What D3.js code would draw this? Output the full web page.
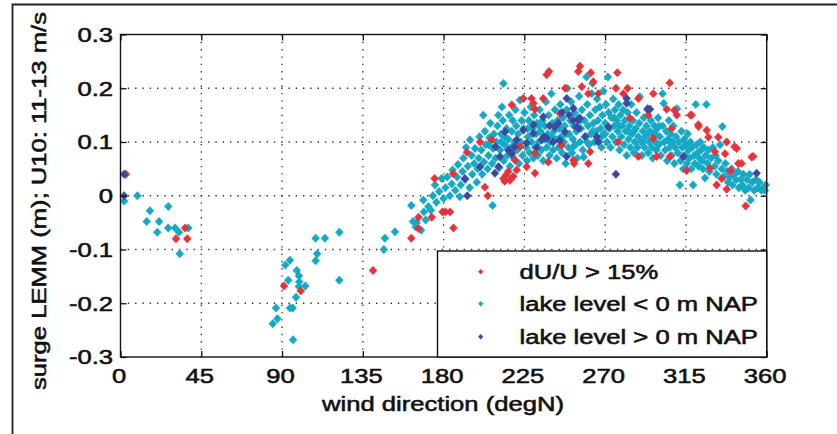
<!DOCTYPE html>
<html>
<head>
<meta charset="utf-8">
<script src="https://cdn.jsdelivr.net/npm/d3@7"></script>
<style>
  body { margin: 0; background: #fff; }
  text { font-family: "Liberation Sans", Arial, sans-serif; fill: #111; stroke: #111; stroke-width: 0.55px; }
</style>
</head>
<body>
<svg id="chart" width="837" height="434"></svg>
<script>
// axis ticks
const xTicks = [0, 45, 90, 135, 180, 225, 270, 315, 360];
const yTicks = [-0.3, -0.2, -0.1, 0, 0.1, 0.2, 0.3];
const yTickLabels = ["-0.3", "-0.2", "-0.1", "0", "0.1", "0.2", "0.3"];
const xTitle = "wind direction (degN)";
const yTitle = "surge LEMM (m); U10: 11-13 m/s";
const legendLabels = ["dU/U > 15%", "lake level < 0 m NAP", "lake level > 0 m NAP"];
const colors = ["#e8323a", "#14a9c6", "#3b4a9e"];

// [wind direction, surge]  - lake level < 0 m NAP
const lakeLow = [
  [2,-0.01],[9.4,0.0],[16.4,-0.028],[14.6,-0.048],[21.5,-0.048],[26.6,-0.02],[20.5,-0.068],[26.6,-0.06],
  [30.4,-0.06],[32.6,-0.068],[37.8,-0.06],[33,-0.108],
  [84.8,-0.238],[86.6,-0.209],[87.4,-0.229],[91.8,-0.129],[93.5,-0.157],[94.4,-0.12],[94.4,-0.209],
  [95.9,-0.209],[96.1,-0.268],[97.8,-0.189],[98.2,-0.139],[99.4,-0.149],[99.6,-0.16],[99.4,-0.169],
  [103,-0.168],[108.7,-0.079],[113.9,-0.079],[121.9,-0.068],[109.6,-0.108],[108.7,-0.121],[121.9,-0.157],
  [147.3,-0.079],[146.7,-0.1],[152.9,-0.067],[162,-0.018],[163,-0.048],[164.5,-0.058],
  [165,-0.05],[167.5,-0.064],[168.7,-0.008],[169,-0.03],[170,-0.045],[171.5,-0.02],[172.9,-0.027],[174,0.0],
  [175.2,0.02],[176,-0.012],[177.5,0.008],[178.9,0.032],[180,-0.005],[181,0.015],[182,0.035],[183.5,0.0],
  [184.5,0.022],[185,0.048],[186.5,0.01],[187.5,0.035],[188,0.058],[189,-0.002],[189.5,0.02],[190.5,0.045],
  [191,0.07],[192,0.03],[192.5,0.09],[193.5,0.055],[194.5,0.015],[194.7,0.104],[195.6,0.075],[196,0.04],
  [197,0.06],[197.5,0.088],[198.5,0.025],[199,0.05],[199.5,0.07],[200,0.11],[201,0.085],[201.5,0.04],
  [202.1,0.15],[202.5,0.063],[203,0.12],[203.5,0.095],[204.5,0.05],[205,0.075],[205.5,0.108],[206,0.135],
  [207.3,-0.018],[207,0.06],[207.5,0.088],[208,0.115],[209,0.07],[209.5,0.1],[210,0.13],[210.5,0.15],
  [211,0.052],[211.5,0.085],[212,0.115],[212.5,0.165],[213.3,0.209],[213,0.14],[213.5,0.065],[214,0.095],
  [215,0.125],[215.5,0.075],[216,0.105],[216.5,0.15],[217,0.055],[217.5,0.09],[218,0.12],[218.5,0.14],
  [219,0.07],[219.5,0.1],[220,0.16],[220.5,0.13],[221,0.085],[221.5,0.115],[222.5,0.178],[222,0.06],
  [223,0.1],[223.5,0.14],[224,0.075],[224.5,0.125],[225,0.155],
  [226,0.09],[226.5,0.065],[227,0.11],[227.5,0.14],[228,0.08],[228.5,0.165],[229,0.1],[229.5,0.125],
  [230,0.07],[230.5,0.15],[231,0.09],[231.5,0.115],[232,0.135],[232.5,0.075],[233,0.1],[233.5,0.16],
  [234,0.12],[234.5,0.085],[235,0.14],[235.5,0.065],[236,0.105],[236.5,0.13],[237,0.175],[237.5,0.09],
  [238,0.115],[238.5,0.15],[239,0.075],[239.5,0.1],[240,0.19],[240.5,0.135],[241,0.085],[241.5,0.12],
  [242,0.16],[242.5,0.105],[243,0.07],[243.5,0.14],[244,0.09],[244.5,0.125],[245,0.17],[245.5,0.11],
  [246,0.08],[246.5,0.145],[247,0.1],[247.5,0.13],[248,0.06],[248.5,0.16],[249,0.2],[249.5,0.09],
  [250,0.115],[250.5,0.14],[251,0.175],[251.5,0.08],[252,0.105],[252.5,0.13],[253,0.155],[253.5,0.095],
  [254,0.12],[254.5,0.07],[255,0.145],[255.5,0.185],[256,0.1],[256.5,0.125],[257,0.16],[257.5,0.085],
  [258,0.072],[258.5,0.14],[259,0.11],[259.6,0.221],[260,0.17],[260.5,0.13],[261,0.095],[261.5,0.15],
  [262,0.115],[262.5,0.19],[263,0.209],[263.5,0.135],[264,0.1],[264.5,0.16],[265,0.12],[265.5,0.18],
  [266,0.14],[266.5,0.105],[267,0.165],[267.5,0.125],[268,0.09],[268.5,0.15],[269,0.195],[269.5,0.115],
  [270,0.135],[270.5,0.17],[271,0.1],[271.5,0.221],[272,0.155],[272.5,0.125],[273,0.09],[273.5,0.145],
  [274,0.11],[274.5,0.18],[275,0.13],[275.5,0.16],[276,0.1],[276.5,0.14],[277,0.12],[277.5,0.17],
  [278,0.085],[278.5,0.15],[279,0.11],[279.5,0.13],[280,0.16],[280.5,0.095],[281,0.14],[281.5,0.12],
  [282,0.075],[282.5,0.155],[283,0.105],[283.5,0.13],[284,0.09],[284.5,0.17],[285,0.115],[285.5,0.14],
  [286,0.08],[286.5,0.1],[287,0.125],[287.5,0.155],[288,0.09],[288.5,0.11],[289,0.135],[289.3,0.184],
  [290,0.1],[290.5,0.075],[291,0.12],[291.5,0.145],[292,0.09],[292.5,0.11],[293,0.13],[293.5,0.16],
  [294,0.08],[294.5,0.1],[295,0.12],[295.5,0.14],[296,0.09],[296.5,0.07],[297,0.115],[297.5,0.13],
  [298,0.1],[298.5,0.085],[299,0.125],[299.5,0.145],[300,0.095],[300.5,0.11],[302,0.19],[301,0.075],
  [302,0.13],[302.6,0.172],[303,0.1],[303.5,0.085],[304,0.12],[304.5,0.065],[305,0.105],[305.5,0.14],
  [306,0.09],[306.5,0.115],[307,0.075],[307.5,0.1],[308,0.13],[308.5,0.06],[309,0.09],[309.5,0.11],
  [310,0.162],[310.5,0.08],[311,0.1],[311.6,0.02],[312,0.065],[312.5,0.12],[313,0.09],[313.5,0.05],
  [314,0.105],[314.5,0.075],[315,0.095],[315.5,0.06],[316,0.115],[316.5,0.085],[317,0.07],[317.5,0.1],
  [318,0.05],[318.5,0.09],[319,0.02],[319.5,0.075],[320,0.06],[320.5,0.17],[321,0.095],[321.5,0.08],
  [322,0.055],[322.5,0.07],[323,0.1],[323.5,0.085],[324,0.065],[324.5,0.05],[325,0.09],[325.6,0.033],
  [326,0.075],[326.4,0.17],[327,0.06],[327.5,0.085],[328,0.045],[329,0.07],[330,0.09],[331,0.055],
  [331.5,0.075],[332,0.04],[333,0.065],[334,0.095],[335,0.05],[335.3,0.129],[336,0.035],[337,0.06],
  [338,0.045],[338.5,0.025],[339.5,0.035],[340.5,0.05],[341,0.02],[342,0.04],[343,0.03],[344,0.045],
  [344.5,0.015],[345.5,0.03],[346.5,0.02],[347,0.04],[348,0.01],[349,0.03],[350,0.015],[350.5,0.04],
  [351,-0.008],[352,0.025],[353,0.01],[354,0.03],[355,0.015],[356,0.025],[357,0.01],[358,0.014],
  [359,0.01],[359.5,0.02],
  // core of the cloud
  [205,0.095],[212,0.1],[214,0.11],[219,0.085],[222,0.095],[227,0.125],[233,0.13],[240,0.11],
  [244,0.105],[248,0.115],[252,0.09],[256,0.14],[260,0.1],[263,0.12],[268,0.11],[270,0.115],
  [275,0.145],[278,0.13],[283,0.12],[286,0.12],[291,0.1],[294,0.115],[298,0.115],[300,0.13],[306,0.1]
];

// dU/U > 15%
const highWind = [
  [3,0.04],[36,-0.06],[30.9,-0.08],[37.2,-0.08],[91.1,-0.168],[100.4,-0.177],[140.7,-0.139],
  [162,-0.079],[166,-0.04],[166,-0.061],[173.4,-0.04],[175,0.032],[179.4,-0.03],[181,-0.03],[183.6,-0.03],
  [185.5,-0.06],[185.3,0.041],[193,0.081],[200.3,0.1],[203,0.016],[204.6,0.0],
  [213.3,0.032],[215,0.039],[217,0.029],[218.8,0.036],[220.7,0.048],[216,0.045],[214,0.027],
  [226.3,0.054],[230.9,0.042],[238.3,0.063],[252.3,0.066],[260.6,0.06],[261.6,0.082],[245.8,0.094],
  [244.8,0.153],[230.9,0.161],[218,0.169],[224.4,0.181],[229,0.181],[235.5,0.181],[230,0.172],
  [237.4,0.225],[238.7,0.231],[256,0.241],[255,0.231],[257,0.203],[260.6,0.19],[263.4,0.212],[262,0.229],
  [247.7,0.2],[276.8,0.229],[276,0.2],[282.5,0.2],[280.1,0.19],[266.2,0.19],
  [296.8,0.19],[306,0.21],[288.5,0.181],[304.3,0.161],[309.9,0.15],[318.2,0.15],[321.9,0.132],
  [326.6,0.122],[327.5,0.109],[333,0.109],[337.7,0.1],[343.3,0.088],[331.2,0.082],[346,0.06],
  [352.5,0.073],[328.4,0.051],[334.9,0.032],[332.1,0.02],[337.7,0.012],[348.3,-0.019],[306.1,0.073],
  [288.5,0.073],[277.3,0.1],[296.8,0.107],[298.7,0.073],[315.4,0.047],[339.8,0.047],[344.2,0.06],
  [336.8,0.078],[342.1,0.091],[351.6,0.072],[322,0.129],[317.5,0.15],[308.6,0.159],[252.7,0.06],
  [206.8,0.104],[219.8,0.066],[222.6,0.091],[230.9,0.079],[283.8,0.144],[294,0.15],[307,0.125]
];

// lake level > 0 m NAP
const lakeHigh = [
  [2,0.04],[2,0.0],[193.2,0.0],[191.9,0.032],[200.3,0.054],[208.6,0.042],[211.4,0.073],[214.2,0.119],
  [220.7,0.104],[224.4,0.122],[226.3,0.098],[230,0.132],[234.7,0.104],[235.5,0.147],[237.4,0.107],
  [241.1,0.1],[247.6,0.119],[248.6,0.181],[248.6,0.073],[252.3,0.163],[254.1,0.128],[255,0.141],
  [256,0.144],[258.8,0.11],[265.3,0.11],[266.2,0.1],[271.8,0.128],[276,0.04],[282,0.181],[282,0.172],
  [295,0.161],[313.5,0.073],[354.4,0.042],[209,0.091],[219.5,0.091],[229.9,0.116],[241.8,0.128],
  [252.2,0.14],[255.1,0.125],[244.7,0.103],[235.8,0.11],[218,0.078],[210.6,0.054],[293.7,0.162],
  [239,0.13],[244,0.135],[250,0.15],[246,0.155],[232,0.09],[216,0.085]
];

const svg = d3.select("#chart");
const x = d3.scaleLinear().domain([0, 360]).range([120.5, 766.7]);
const y = d3.scaleLinear().domain([-0.3, 0.3]).range([357, 34.5]);
const stretch = 1.28;

function label(str, px, py, anchor, size, rot) {
  svg.append("text")
    .attr("transform", `translate(${px},${py}) rotate(${rot || 0}) scale(${stretch},1)`)
    .attr("text-anchor", anchor)
    .attr("font-size", size)
    .text(str);
}

// outer frame
svg.append("path").attr("d", "M12.5,434V4.5H837")
  .attr("fill", "none").attr("stroke", "#222").attr("stroke-width", 1.8);

// dotted grid
const grid = svg.append("g").attr("stroke", "#333").attr("stroke-width", 1.3)
  .attr("stroke-dasharray", "1.4,5.9").attr("fill", "none");
xTicks.slice(1, -1).forEach(t => {
  grid.append("line").attr("x1", x(t)).attr("x2", x(t)).attr("y1", y(0.3)).attr("y2", y(-0.3));
});
yTicks.slice(1, -1).forEach(t => {
  grid.append("line").attr("x1", x(0)).attr("x2", x(360)).attr("y1", y(t)).attr("y2", y(t));
});

// diamond marker
const diamond = {
  draw(ctx, size) {
    const r = Math.sqrt(size) / 2;
    ctx.moveTo(0, -r * 1.06);
    ctx.lineTo(r, 0);
    ctx.lineTo(0, r * 1.06);
    ctx.lineTo(-r, 0);
    ctx.closePath();
  }
};
const mark = d3.symbol(diamond, 64);

function plotSeries(data, color) {
  svg.append("g").selectAll("path").data(data).join("path")
    .attr("transform", d => `translate(${x(d[0])},${y(d[1])})`)
    .attr("d", mark)
    .attr("fill", color)
    .attr("stroke", color)
    .attr("stroke-opacity", 0.45)
    .attr("stroke-width", 1);
}
plotSeries(lakeLow, colors[1]);
plotSeries(highWind, colors[0]);
plotSeries(lakeHigh, colors[2]);

// ticks on all four sides, pointing inward
const tickLen = 6;
svg.append("g").attr("transform", `translate(0,${y(-0.3)})`)
  .call(d3.axisBottom(x).tickValues(xTicks).tickSize(-tickLen).tickFormat(""));
svg.append("g").attr("transform", `translate(0,${y(0.3)})`)
  .call(d3.axisTop(x).tickValues(xTicks).tickSize(-tickLen).tickFormat(""));
svg.append("g").attr("transform", `translate(${x(0)},0)`)
  .call(d3.axisLeft(y).tickValues(yTicks).tickSize(-tickLen).tickFormat(""));
svg.append("g").attr("transform", `translate(${x(360)},0)`)
  .call(d3.axisRight(y).tickValues(yTicks).tickSize(-tickLen).tickFormat(""));
svg.selectAll(".domain").remove();
svg.selectAll(".tick line").attr("stroke", "#111").attr("stroke-width", 1.3);

// plot box
svg.append("rect")
  .attr("x", x(0)).attr("y", y(0.3))
  .attr("width", x(360) - x(0)).attr("height", y(-0.3) - y(0.3))
  .attr("fill", "none").attr("stroke", "#111").attr("stroke-width", 1.4);

// tick labels
xTicks.forEach(t => label(String(t), x(t) - 1.5, 383, "middle", 20));
yTicks.forEach((t, i) => label(yTickLabels[i], 113, y(t) + 7.3, "end", 20));

// axis titles
label(xTitle, 443, 411, "middle", 20);
label(yTitle, 46, 201, "middle", 20, -90);

// legend
svg.append("rect")
  .attr("x", 437.5).attr("y", 251).attr("width", x(360) - 437.5).attr("height", y(-0.3) - 251)
  .attr("fill", "#fff").attr("stroke", "#111").attr("stroke-width", 1.4);
const legendMark = d3.symbol(diamond, 26);
const legendY = [271.7, 303.8, 336.7];
legendLabels.forEach((lab, i) => {
  svg.append("path")
    .attr("transform", `translate(480.7,${legendY[i]})`)
    .attr("d", legendMark)
    .attr("fill", colors[i]);
  label(lab, 519.5, legendY[i] + 7.3, "start", 20);
});
</script>
</body>
</html>
